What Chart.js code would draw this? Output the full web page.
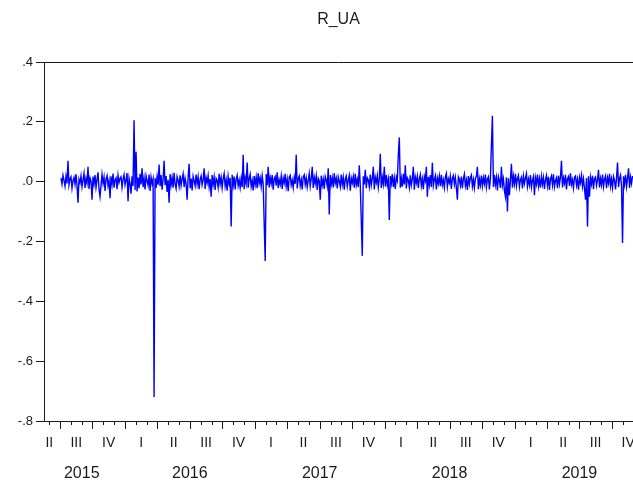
<!DOCTYPE html>
<html>
<head>
<meta charset="utf-8">
<title>R_UA</title>
<script src="https://cdn.jsdelivr.net/npm/chart.js@4.4.1/dist/chart.umd.min.js"></script>
<style>
  html, body { margin: 0; padding: 0; background: #fff; }
  #wrap { width: 633px; height: 483px; }
</style>
</head>
<body>
<div id="wrap"><canvas id="lineChart" width="633" height="483"></canvas></div>
<script>
// x axis in months since Jan 2015
const xMin = 4.52;
const xMax = 58.95;
const firstObs = 6.09;     // early July 2015
const obsStep = 0.0925;    // about every second trading day

const quarterNames = ["I", "II", "III", "IV"];
const years = [2015, 2016, 2017, 2018, 2019];
const yTicks = [-0.8, -0.6, -0.4, -0.2, 0.0, 0.2, 0.4];

const r_ua = [
  .012,-.008,.021,.004,-.015,.018,-.006,.070,-.011,.009,.016,-.022,.003,.014,-.009,.025,-.013,-.070,.008,-.004,
  .019,-.017,.006,.028,-.021,.011,-.005,.050,-.024,.013,.002,-.060,.017,-.008,.022,-.019,.007,.031,-.026,-.050,
  -.012,.024,-.006,.015,-.031,.009,.020,-.014,.004,-.055,.018,-.009,.027,-.020,.006,.013,-.025,.021,-.003,.011,
  .016,-.019,.008,.023,-.011,.005,.029,-.065,.012,-.007,-.040,.018,-.014,.205,-.028,.100,-.033,.014,-.022,.026,
  -.009,.045,-.018,.011,-.026,.020,.003,-.013,.024,-.031,.015,-.006,.009,-.720,.012,-.021,.017,-.010,.057,-.015,
  .022,-.027,.008,.070,-.012,.019,-.034,.006,-.070,.025,-.011,.014,-.020,.030,-.008,-.023,.017,.004,-.016,.021,
  -.013,.009,.026,-.018,.012,-.007,-.060,.015,.060,-.022,.010,-.029,.018,.003,-.014,.024,-.009,.016,-.025,.007,
  .019,-.011,.006,.045,-.024,.013,-.004,.020,-.017,.009,-.050,.022,-.010,.015,-.028,.011,.004,-.019,.026,-.008,
  .014,-.021,.010,.027,-.015,.006,-.030,.018,-.007,.012,-.150,.023,-.012,.017,-.026,.008,.021,-.014,.005,-.020,
  .011,-.018,.090,-.025,.013,-.006,.064,-.020,.009,.024,-.016,.004,-.029,.019,-.010,.015,-.022,.028,-.005,.012,
  -.017,.020,-.008,-.140,-.265,.025,-.012,.050,-.019,.014,-.006,.022,-.027,.010,.017,-.013,.031,-.021,.006,-.009,
  .018,-.024,.012,-.004,.026,-.016,.008,-.032,.015,.021,-.011,.005,-.020,.013,-.007,.090,-.023,.010,.019,-.014,
  .007,-.026,.016,.023,-.009,.012,-.018,.004,.027,-.015,.010,.050,-.021,.014,-.006,.019,-.028,.011,.003,-.060,
  .020,-.012,.008,-.024,.017,.006,-.015,.045,-.110,.022,-.009,.013,-.019,.028,-.005,.011,-.023,.016,.002,-.017,
  .024,-.010,.014,-.027,.009,.019,-.016,.005,.021,-.030,.012,-.004,.017,-.020,.026,-.011,.008,-.018,.055,-.013,
  -.130,-.248,.018,-.009,.040,-.022,.013,.006,-.017,.024,-.012,.010,.050,-.026,.015,-.003,.020,-.019,.009,.093,
  -.021,.014,-.008,.050,-.016,.022,-.011,.007,-.128,.019,-.006,.025,-.018,.012,-.024,.016,.004,.090,.148,-.020,
  .011,-.017,.026,-.009,.055,-.023,.013,.005,-.019,.021,-.012,.008,.050,-.027,.015,-.004,.018,-.021,.010,.024,
  -.014,.009,-.025,.017,.003,.050,-.050,.016,-.010,.022,-.018,.063,-.013,.007,.020,-.026,.012,-.006,.019,-.015,
  .023,-.011,.006,-.020,.015,.027,-.017,.009,-.004,.018,-.024,.012,.021,-.009,.014,-.019,-.060,.016,.008,-.013,
  .017,-.022,.010,.025,-.014,.005,-.028,.019,-.008,.013,.022,-.016,.007,-.021,.011,.018,.050,-.025,.009,-.012,
  .020,-.015,.013,-.007,.024,-.019,.008,.016,-.026,.011,.120,.220,-.018,.023,-.010,.014,-.029,.017,.004,-.021,
  .050,-.012,.009,-.030,-.050,.015,-.100,.011,-.045,.006,.060,-.020,.018,-.008,.026,-.014,.010,.021,-.017,.007,
  .015,-.023,.019,-.006,.012,.027,-.016,.008,-.011,.022,-.019,.004,.017,-.045,.013,-.007,.024,-.015,.010,-.020,
  .018,-.009,.014,-.024,.006,.021,-.013,.016,-.028,.009,.019,-.011,.025,-.017,.003,.013,-.022,.020,-.008,.015,
  .070,-.019,.012,-.005,.023,-.026,.010,.017,-.014,.028,-.009,.006,-.021,.015,.019,-.012,.008,-.027,.014,-.004,
  .021,-.016,.009,-.023,-.060,.012,-.150,.018,-.050,.014,-.008,.020,-.025,.011,.016,-.013,.006,.040,-.019,.010,
  -.011,.024,-.017,.008,.019,-.022,.013,-.005,.026,-.015,.009,-.020,.017,.004,-.026,.012,.064,-.018,.010,.022,
  -.014,-.205,.018,-.009,.023,-.017,.011,.045,-.021,.015,-.006,.019
];

const FONT = "'Liberation Sans', Arial, sans-serif";
const INK = "#1a1a1a";

// EViews style frame, month/quarter ticks, quarter + year labels, title
const eviewsAxis = {
  id: "eviewsAxis",
  afterDraw(chart) {
    const ctx = chart.ctx;
    const area = chart.chartArea;
    const xs = chart.scales.x;
    ctx.save();
    ctx.strokeStyle = INK;
    ctx.lineWidth = 1;
    ctx.beginPath();
    ctx.moveTo(area.left, area.top + 0.5);
    ctx.lineTo(area.right, area.top + 0.5);
    ctx.moveTo(area.left, area.bottom + 0.5);
    ctx.lineTo(area.right, area.bottom + 0.5);
    for (let m = Math.ceil(xMin); m <= xMax; m++) {
      const px = Math.round(xs.getPixelForValue(m)) + 0.5;
      const len = m % 3 === 0 ? 8 : 4;
      ctx.moveTo(px, area.bottom);
      ctx.lineTo(px, area.bottom + len);
    }
    ctx.stroke();

    ctx.fillStyle = INK;
    ctx.textAlign = "center";
    ctx.textBaseline = "middle";
    const labelStart = xMin - 0.5;

    ctx.font = "14px " + FONT;
    for (let q = 0; q * 3 < xMax; q++) {
      const s = q * 3, e = s + 3;
      if (e <= xMin) continue;
      const mid = (Math.max(s, labelStart) + e) / 2;
      ctx.fillText(quarterNames[q % 4], xs.getPixelForValue(mid), area.bottom + 22);
    }

    ctx.font = "16px " + FONT;
    years.forEach(function (y, i) {
      const s = i * 12, e = s + 12;
      const mid = (Math.max(s, labelStart) + e) / 2;
      ctx.fillText(String(y), xs.getPixelForValue(mid), area.bottom + 53);
    });

    ctx.font = "16px " + FONT;
    ctx.fillText("R_UA", (area.left + area.right) / 2, 20);
    ctx.restore();
  }
};

document.addEventListener("DOMContentLoaded", function () {
  const points = r_ua.map(function (v, i) {
    return { x: firstObs + i * obsStep, y: v };
  });

  const lineCtx = document.getElementById("lineChart").getContext("2d");
  new Chart(lineCtx, {
    type: "line",
    data: {
      datasets: [{
        label: "R_UA",
        data: points,
        borderColor: "#0000ff",
        borderWidth: 1.4,
        pointRadius: 0,
        tension: 0,
        fill: false
      }]
    },
    options: {
      responsive: false,
      animation: false,
      layout: { padding: { top: 62, bottom: 62, left: 0, right: 0 } },
      plugins: {
        legend: { display: false },
        title: { display: false },
        tooltip: { enabled: false }
      },
      scales: {
        x: { type: "linear", min: xMin, max: xMax, display: false },
        y: {
          min: -0.8,
          max: 0.4,
          afterBuildTicks: function (scale) {
            scale.ticks = yTicks.map(function (v) { return { value: v }; });
          },
          afterFit: function (scale) { scale.width = 44; },
          grid: { drawOnChartArea: false, drawTicks: true, tickLength: 8, color: INK },
          border: { display: true, color: INK, width: 1 },
          ticks: {
            padding: 3,
            color: INK,
            font: { family: FONT, size: 13 },
            callback: function (v) {
              const s = (Math.round(v * 10) / 10).toFixed(1);
              return s.replace("0.", ".");
            }
          }
        }
      }
    },
    plugins: [eviewsAxis]
  });
});
</script>
</body>
</html>
